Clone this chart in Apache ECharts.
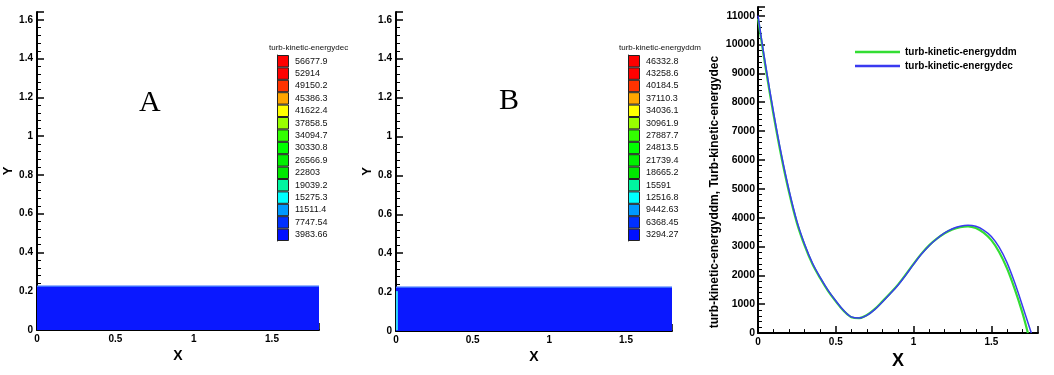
<!DOCTYPE html>
<html>
<head>
<meta charset="utf-8">
<script src="https://cdn.jsdelivr.net/npm/echarts@6/dist/echarts.min.js"></script>
<style>
html, body { margin: 0; padding: 0; background: #fff; }
#main { width: 1054px; height: 375px; }
</style>
</head>
<body>
<div id="main"></div>
<script>
// contour legend levels (A = dec, B = ddm)
var levelsDec = ['56677.9', '52914', '49150.2', '45386.3', '41622.4', '37858.5', '34094.7', '30330.8',
    '26566.9', '22803', '19039.2', '15275.3', '11511.4', '7747.54', '3983.66'];
var levelsDdm = ['46332.8', '43258.6', '40184.5', '37110.3', '34036.1', '30961.9', '27887.7', '24813.5',
    '21739.4', '18665.2', '15591', '12516.8', '9442.63', '6368.45', '3294.27'];

// flow domain drawn in the contour plots
var domainX = [0, 1.8];
var domainHeight = 0.225;
var inletEdgeB = [[0.006, 0.004], [0.006, 0.205]];

// line plot: turb-kinetic-energy along X
var decX = [0, 0.025, 0.05, 0.1, 0.15, 0.2, 0.25, 0.3, 0.35, 0.4, 0.45, 0.5, 0.55, 0.6, 0.65, 0.7, 0.75, 0.8,
    0.85, 0.9, 0.95, 1.0, 1.05, 1.1, 1.15, 1.2, 1.25, 1.3, 1.35, 1.4, 1.45, 1.5, 1.55, 1.6, 1.65, 1.7, 1.757];
var decY = [11000, 10100, 9250, 7650, 6200, 4940, 3880, 3080, 2430, 1930, 1490, 1120, 790, 560, 520, 615, 815, 1080,
    1360, 1660, 2010, 2380, 2730, 3030, 3270, 3470, 3615, 3705, 3740, 3700, 3570, 3350, 2980, 2450, 1750, 950, 0];
var ddmX = [0, 0.025, 0.05, 0.1, 0.15, 0.2, 0.25, 0.3, 0.35, 0.4, 0.45, 0.5, 0.55, 0.6, 0.65, 0.7, 0.75, 0.8,
    0.85, 0.9, 0.95, 1.0, 1.05, 1.1, 1.15, 1.2, 1.25, 1.3, 1.35, 1.4, 1.45, 1.5, 1.55, 1.6, 1.65, 1.7, 1.735];
var ddmY = [10900, 10020, 9160, 7560, 6120, 4870, 3820, 3030, 2390, 1900, 1465, 1100, 775, 552, 518, 625, 830, 1100,
    1380, 1680, 2030, 2400, 2745, 3040, 3270, 3460, 3595, 3675, 3700, 3640, 3480, 3220, 2810, 2250, 1530, 700, 0];

var bandColors = ['#ff0000', '#ff0000', '#ff3300', '#ffa500', '#ffff00', '#99ff00', '#33ff00', '#00ff00',
    '#00f000', '#00e800', '#00f5a0', '#00ffff', '#0099ff', '#0030ff', '#0010ff'];

var myChart = echarts.init(document.getElementById('main'));

var boldNum = { color: '#000', fontWeight: 'bold', fontSize: 10, fontFamily: 'Liberation Sans, Arial' };

function stepFormatter(step) {
    return function (v) {
        var k = v / step;
        return Math.abs(k - Math.round(k)) < 1e-6 ? String(+v.toFixed(2)) : '';
    };
}

function plotX(gi, nameGap, nameSize) {
    return {
        gridIndex: gi, type: 'value', min: domainX[0], max: domainX[1], interval: 0.5,
        axisLine: { onZero: false, lineStyle: { color: '#000', width: 2 } },
        axisTick: { inside: true, length: 7, lineStyle: { color: '#000', width: 1.5 } },
        minorTick: { show: true, splitNumber: 5, length: 4, lineStyle: { color: '#000', width: 1 } },
        splitLine: { show: false },
        axisLabel: Object.assign({ margin: 4, formatter: stepFormatter(0.5) }, boldNum),
        name: 'X', nameLocation: 'middle', nameGap: nameGap,
        nameTextStyle: { color: '#000', fontWeight: 'bold', fontSize: nameSize, fontFamily: 'Liberation Sans, Arial' }
    };
}

function contourY(gi) {
    return {
        gridIndex: gi, type: 'value', min: 0, max: 1.64, interval: 0.2,
        axisLine: { onZero: false, lineStyle: { color: '#000', width: 2 } },
        axisTick: { inside: true, length: 7, lineStyle: { color: '#000', width: 1.5 } },
        minorTick: { show: true, splitNumber: 5, length: 4, lineStyle: { color: '#000', width: 1 } },
        splitLine: { show: false },
        axisLabel: Object.assign({ margin: 4, formatter: stepFormatter(0.2) }, boldNum),
        name: 'Y', nameLocation: 'middle', nameGap: 22, nameRotate: 90,
        nameTextStyle: { color: '#000', fontWeight: 'bold', fontSize: 13, fontFamily: 'Liberation Sans, Arial' }
    };
}

function legendY(gi, levels) {
    return {
        gridIndex: gi, type: 'category', data: levels, inverse: true, position: 'right',
        axisLine: { show: true, lineStyle: { color: '#333', width: 1 } },
        axisTick: { show: false },
        splitLine: { show: false },
        axisLabel: { color: '#111', fontSize: 9, margin: 6, fontFamily: 'Liberation Sans, Arial' }
    };
}

function legendBars(gi, levels) {
    return {
        type: 'bar', xAxisIndex: gi, yAxisIndex: gi, barWidth: '100%', silent: true,
        itemStyle: { borderColor: '#222', borderWidth: 1 },
        data: levels.map(function (l, i) {
            return { value: 1, itemStyle: { color: bandColors[i] } };
        })
    };
}

function domainSeries(ai) {
    return {
        type: 'line', xAxisIndex: ai, yAxisIndex: ai, symbol: 'none', silent: true,
        data: [[domainX[0], domainHeight], [domainX[1], domainHeight]],
        lineStyle: { color: '#3a6cff', width: 1.5 },
        areaStyle: { color: '#0a18ff', opacity: 1 }
    };
}

var smallTitle = { fontSize: 8, fontWeight: 'normal', color: '#111', fontFamily: 'Liberation Sans, Arial' };
var bigLetter = { fontSize: 30, fontWeight: 'normal', color: '#000', fontFamily: 'Liberation Serif, Times New Roman, serif' };

option = {
    animation: false,
    title: [
        { text: 'A', left: 139, top: 88, padding: 0, textStyle: bigLetter },
        { text: 'B', left: 499, top: 86, padding: 0, textStyle: bigLetter },
        { text: 'turb-kinetic-energydec', left: 269, top: 44, padding: 0, textStyle: smallTitle },
        { text: 'turb-kinetic-energyddm', left: 619, top: 44, padding: 0, textStyle: smallTitle }
    ],
    legend: {
        data: ['turb-kinetic-energyddm', 'turb-kinetic-energydec'],
        orient: 'vertical', left: 850, top: 42, itemWidth: 45, itemHeight: 2.5, itemGap: 4,
        icon: 'rect',
        textStyle: { color: '#000', fontWeight: 'bold', fontSize: 10, fontFamily: 'Liberation Sans, Arial' }
    },
    grid: [
        { left: 37, top: 12, width: 282, height: 318 },
        { left: 277, top: 55, width: 12, height: 186 },
        { left: 396, top: 12, width: 276, height: 319 },
        { left: 628, top: 55, width: 12, height: 186 },
        { left: 758, top: 7, width: 280, height: 333 }
    ],
    xAxis: [
        plotX(0, 14, 14),
        { gridIndex: 1, type: 'value', min: 0, max: 1, show: false },
        plotX(2, 14, 14),
        { gridIndex: 3, type: 'value', min: 0, max: 1, show: false },
        plotX(4, 10, 18)
    ],
    yAxis: [
        contourY(0),
        legendY(1, levelsDec),
        contourY(2),
        legendY(3, levelsDdm),
        {
            gridIndex: 4, type: 'value', min: 0, max: 11300, interval: 1000,
            axisLine: { onZero: false, lineStyle: { color: '#000', width: 2 } },
            axisTick: { inside: true, length: 7, lineStyle: { color: '#000', width: 1.5 } },
            minorTick: { show: true, splitNumber: 5, length: 4, lineStyle: { color: '#000', width: 1 } },
            splitLine: { show: false },
            axisLabel: Object.assign({ margin: 3, formatter: stepFormatter(1000) }, boldNum, { fontSize: 10.5 }),
            name: 'turb-kinetic-energyddm, Turb-kinetic-energydec', nameLocation: 'middle', nameGap: 37, nameRotate: 90,
            nameTextStyle: { color: '#000', fontWeight: 'bold', fontSize: 12, fontFamily: 'Liberation Sans, Arial', padding: [0, 44, 0, 0] }
        }
    ],
    series: [
        domainSeries(0),
        legendBars(1, levelsDec),
        domainSeries(2),
        {
            type: 'line', xAxisIndex: 2, yAxisIndex: 2, symbol: 'none', silent: true,
            data: inletEdgeB, lineStyle: { color: '#30d8ff', width: 2 }
        },
        legendBars(3, levelsDdm),
        {
            name: 'turb-kinetic-energyddm', type: 'line', xAxisIndex: 4, yAxisIndex: 4,
            symbol: 'none', smooth: 0.35, color: '#33dd33',
            lineStyle: { color: '#33dd33', width: 2.2 },
            data: ddmX.map(function (x, i) { return [x, ddmY[i]]; })
        },
        {
            name: 'turb-kinetic-energydec', type: 'line', xAxisIndex: 4, yAxisIndex: 4,
            symbol: 'none', smooth: 0.35, color: '#3a3af0',
            lineStyle: { color: '#3a3af0', width: 1.5 },
            data: decX.map(function (x, i) { return [x, decY[i]]; })
        }
    ]
};

myChart.setOption(option);
</script>
</body>
</html>
